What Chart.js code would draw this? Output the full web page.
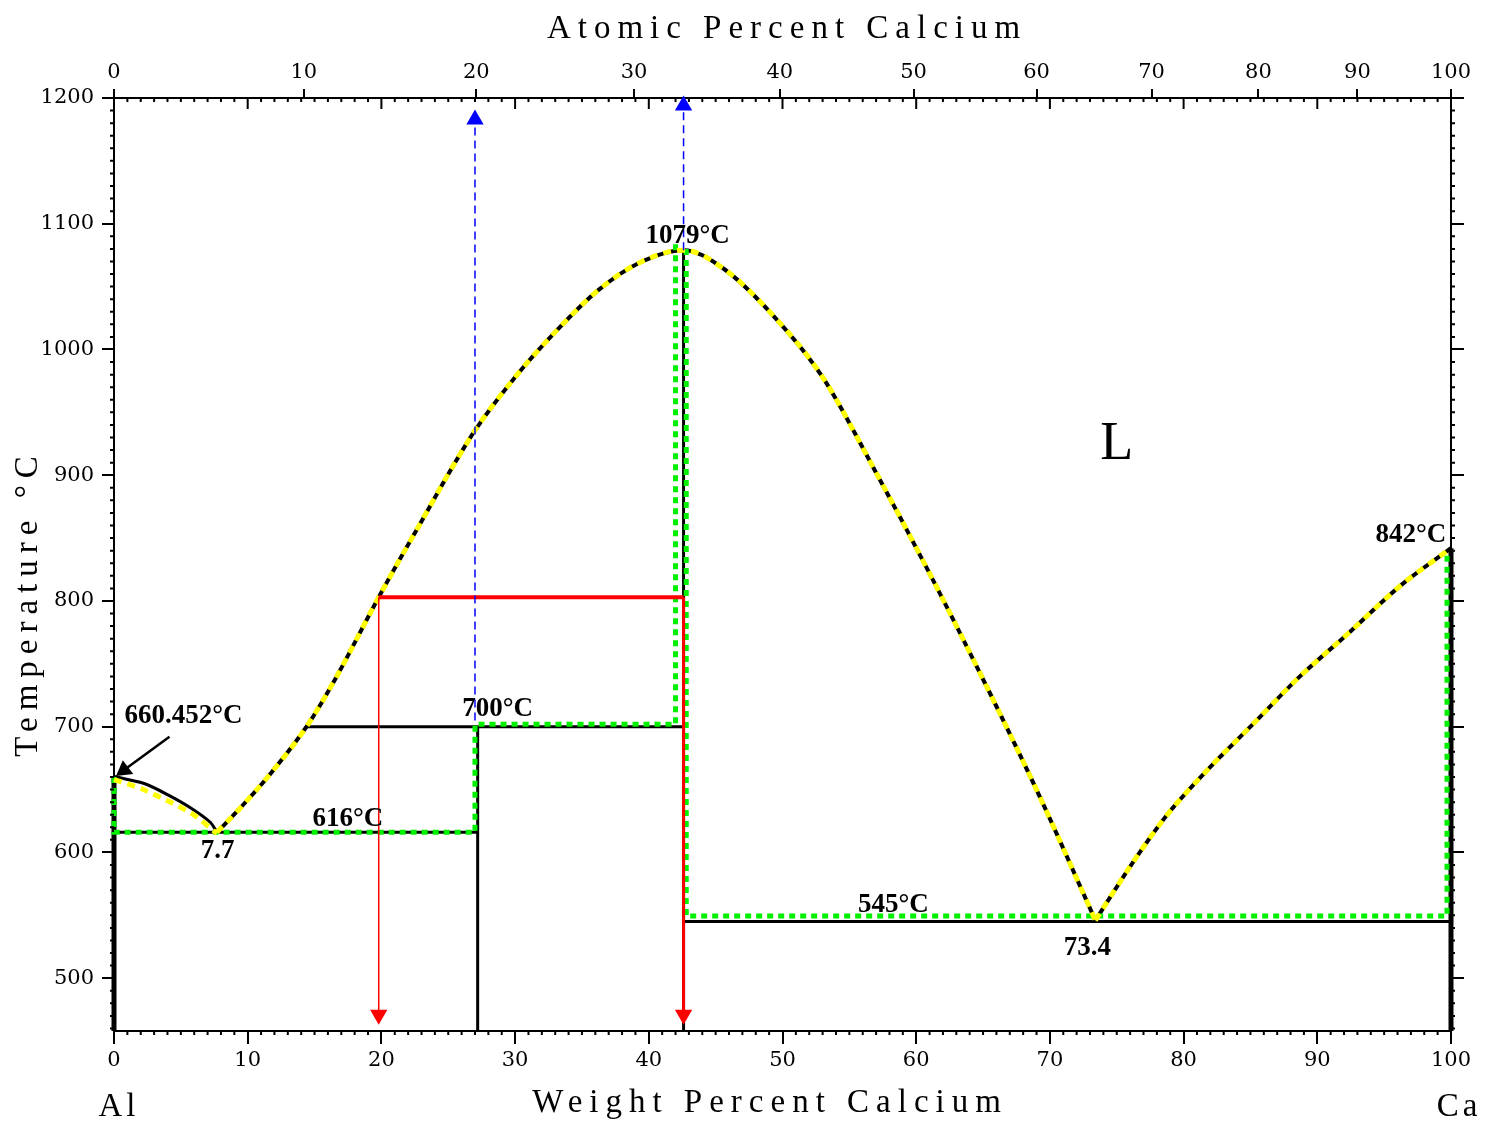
<!DOCTYPE html>
<html>
<head>
<title>Al-Ca Phase Diagram</title>
<script src="https://cdn.jsdelivr.net/npm/chart.js"></script>
<style>
  body { margin: 0; background: #ffffff; }
</style>
</head>
<body>
<canvas id="diagram" width="1492" height="1123"></canvas>
<script>
// x = weight percent calcium, y = temperature (deg C)
var weightTicks = [0, 10, 20, 30, 40, 50, 60, 70, 80, 90, 100];
var tempTicks = [500, 600, 700, 800, 900, 1000, 1100, 1200];
// top axis: atomic percent labels and where they sit in weight percent
var atomicTickLabels = [0, 10, 20, 30, 40, 50, 60, 70, 80, 90, 100];
var atomicTickWeight = [0, 14.2, 27.1, 38.9, 49.8, 59.8, 69.0, 77.6, 85.6, 93.0, 100];

// liquidus branches (black)
var liquidusAl = [
  {x: 0, y: 660.452}, {x: 2.2, y: 655}, {x: 4.0, y: 646}, {x: 5.8, y: 635},
  {x: 7.2, y: 624}, {x: 7.7, y: 616}
];
var liquidusMid = [
  {x: 7.7, y: 616}, {x: 9.5, y: 636}, {x: 11.5, y: 660}, {x: 14.4, y: 700},
  {x: 16.5, y: 737}, {x: 19.8, y: 803}, {x: 22.5, y: 854}, {x: 26.9, y: 934},
  {x: 30.0, y: 978}, {x: 33.1, y: 1015}, {x: 36.2, y: 1047}, {x: 39.3, y: 1069},
  {x: 42.6, y: 1079}, {x: 45.5, y: 1065}, {x: 49.3, y: 1027}, {x: 53.0, y: 978},
  {x: 56.8, y: 906}, {x: 61.0, y: 822}, {x: 65.5, y: 727}, {x: 69.3, y: 643},
  {x: 73.4, y: 546}
];
var liquidusCa = [
  {x: 73.4, y: 546}, {x: 76.2, y: 592}, {x: 78.7, y: 629}, {x: 82.0, y: 668},
  {x: 85.0, y: 700}, {x: 88.7, y: 740}, {x: 92.4, y: 775}, {x: 96.2, y: 812},
  {x: 100, y: 842}
];

// invariant lines and compounds (black)
var pureAl = [{x: 0, y: 458}, {x: 0, y: 660.452}];
var pureCa = [{x: 100, y: 458}, {x: 100, y: 842}];
var eutectic616 = [{x: 0, y: 616}, {x: 27.2, y: 616}];
var peritectic700 = [{x: 14.4, y: 700}, {x: 42.6, y: 700}];
var eutectic545 = [{x: 42.6, y: 545}, {x: 100, y: 545}];
var al4ca = [{x: 27.2, y: 458}, {x: 27.2, y: 700}];
var al2ca = [{x: 42.6, y: 458}, {x: 42.6, y: 1079}];

// highlighted overlays
var yellowAl = [{x: 0, y: 658}, {x: 2.2, y: 650}, {x: 5.8, y: 631}, {x: 7.7, y: 615}];
var greenLeft = [
  {x: 0, y: 660}, {x: 0, y: 616}, {x: 27.0, y: 616}, {x: 27.0, y: 702},
  {x: 42.0, y: 702}, {x: 42.0, y: 1084}
];
var greenRight = [
  {x: 42.8, y: 1080}, {x: 42.8, y: 549.5}, {x: 99.7, y: 549.5}, {x: 99.7, y: 839}
];
var redTieLine = [{x: 19.8, y: 803}, {x: 42.6, y: 803}];
var redDropLeft = [{x: 19.8, y: 803}, {x: 19.8, y: 471}];
var redDropRight = [{x: 42.6, y: 803}, {x: 42.6, y: 471}];
var blueRiseAl4Ca = [{x: 27.0, y: 705}, {x: 27.0, y: 1183}];
var blueRiseAl2Ca = [{x: 42.6, y: 1079}, {x: 42.6, y: 1194}];
var labelArrow = [{x: 4.15, y: 692}, {x: 0.75, y: 665.5}];

var notes = [
  {text: '660.452°C', x: 5.2, y: 708.8},
  {text: '7.7', x: 7.75, y: 601.4},
  {text: '616°C', x: 17.5, y: 626.8},
  {text: '700°C', x: 28.7, y: 714.4},
  {text: '1079°C', x: 42.9, y: 1090.4},
  {text: '545°C', x: 58.3, y: 558.4},
  {text: '73.4', x: 72.8, y: 524.1},
  {text: '842°C', x: 97.0, y: 852.1}
];

function line(data, color, width, order, extra) {
  return Object.assign({
    data: data,
    showLine: true,
    borderColor: color,
    backgroundColor: color,
    borderWidth: width,
    pointRadius: 0,
    fill: false,
    clip: 12,
    order: order
  }, extra || {});
}

function arrow(data, color, width, order, rotation, dash) {
  return line(data, color, width, order, {
    borderDash: dash || [],
    pointRadius: [0, 10],
    pointStyle: 'triangle',
    rotation: [0, rotation],
    pointBackgroundColor: color,
    pointBorderWidth: 0
  });
}

var GREEN = '#00f000', YELLOW = '#ffff00', RED = '#ff0000', BLUE = '#0000ff';

var datasets = [
  // black phase boundaries
  line(liquidusAl, '#000', 3, 9, {tension: 0.3}),
  line(liquidusMid, '#000', 4, 9, {cubicInterpolationMode: 'monotone'}),
  line(liquidusCa, '#000', 4, 9, {cubicInterpolationMode: 'monotone'}),
  line(pureAl, '#000', 5, 9),
  line(pureCa, '#000', 5, 9),
  line(eutectic616, '#000', 3, 9),
  line(peritectic700, '#000', 3, 9),
  line(eutectic545, '#000', 3, 9),
  line(al4ca, '#000', 3, 9),
  line(al2ca, '#000', 3, 9),
  // green dotted
  line(greenLeft, GREEN, 5, 6, {borderDash: [6, 5]}),
  line(greenRight, GREEN, 5, 6, {borderDash: [6, 5]}),
  // yellow dotted over the liquidus
  line(yellowAl, YELLOW, 5, 5, {borderDash: [8, 6], tension: 0.3}),
  line(liquidusMid, YELLOW, 5, 5, {borderDash: [8, 6], cubicInterpolationMode: 'monotone'}),
  line(liquidusCa, YELLOW, 5, 5, {borderDash: [8, 6], cubicInterpolationMode: 'monotone'}),
  // red tie line and drops
  line(redTieLine, RED, 4, 3),
  arrow(redDropLeft, RED, 1.5, 3, 180),
  arrow(redDropRight, RED, 3, 3, 180),
  // blue dashed risers
  arrow(blueRiseAl4Ca, BLUE, 1.5, 2, 0, [8, 5]),
  arrow(blueRiseAl2Ca, BLUE, 1.5, 2, 0, [8, 5]),
  // arrow to the Al melting point
  arrow(labelArrow, '#000', 2.5, 1, 233)
];

var tickFont = {family: 'DejaVu Serif', size: 21};

// minor ticks, plot labels and axis titles
var decorations = {
  id: 'decorations',
  afterDraw: function(chart) {
    var ctx = chart.ctx;
    var xs = chart.scales.x, ys = chart.scales.y;
    var area = chart.chartArea;
    ctx.save();
    ctx.strokeStyle = '#000';
    ctx.lineWidth = 2;
    ctx.beginPath();
    for (var w = 1; w < 100; w++) {
      var px = xs.getPixelForValue(w);
      if (w % 10 !== 0) {
        ctx.moveTo(px, area.bottom); ctx.lineTo(px, area.bottom + 4);
        ctx.moveTo(px, area.top); ctx.lineTo(px, area.top + 4);
      } else {
        ctx.moveTo(px, area.top); ctx.lineTo(px, area.top + 11);
      }
    }
    for (var t = 460; t < 1200; t += 10) {
      if (t % 100 === 0) continue;
      var py = ys.getPixelForValue(t);
      ctx.moveTo(area.left, py); ctx.lineTo(area.left - 4, py);
      ctx.moveTo(area.right, py); ctx.lineTo(area.right + 4, py);
    }
    ctx.stroke();

    ctx.fillStyle = '#000';
    ctx.textAlign = 'center';
    ctx.textBaseline = 'middle';
    ctx.font = 'bold 27px "Liberation Serif"';
    notes.forEach(function(n) {
      ctx.fillText(n.text, xs.getPixelForValue(n.x), ys.getPixelForValue(n.y));
    });
    ctx.font = '54px "Liberation Serif"';
    ctx.fillText('L', xs.getPixelForValue(75.0), ys.getPixelForValue(923.8));

    ctx.font = '33px "Liberation Serif"';
    ctx.letterSpacing = '7px';
    ctx.textBaseline = 'alphabetic';
    ctx.fillText('Atomic Percent Calcium', 787, 38);
    ctx.fillText('Weight Percent Calcium', 770, 1112);
    ctx.letterSpacing = '4px';
    ctx.fillText('Al', 119, 1116);
    ctx.fillText('Ca', 1459, 1116);
    ctx.letterSpacing = '7px';
    ctx.translate(37, 603);
    ctx.rotate(-Math.PI / 2);
    ctx.fillText('Temperature °C', 0, 0);
    ctx.restore();
  }
};

new Chart(document.getElementById('diagram').getContext('2d'), {
  type: 'scatter',
  data: {datasets: datasets},
  plugins: [decorations],
  options: {
    responsive: false,
    animation: false,
    devicePixelRatio: 1,
    layout: {padding: 0},
    plugins: {legend: {display: false}, tooltip: {enabled: false}},
    scales: {
      x: {
        type: 'linear', position: 'bottom', min: 0, max: 100,
        afterBuildTicks: function(s) { s.ticks = weightTicks.map(function(v) { return {value: v}; }); },
        afterFit: function(s) { s.height = 92; },
        ticks: {font: tickFont, color: '#000', padding: 4, maxRotation: 0, autoSkip: false,
                callback: function(v) { return String(v); }},
        grid: {drawOnChartArea: false, color: '#000', lineWidth: 2, tickLength: 13},
        border: {color: '#000', width: 2}
      },
      x2: {
        type: 'linear', position: 'top', min: 0, max: 100,
        afterBuildTicks: function(s) { s.ticks = atomicTickWeight.map(function(v) { return {value: v}; }); },
        afterFit: function(s) { s.height = 98; },
        ticks: {font: tickFont, color: '#000', padding: 4, maxRotation: 0, autoSkip: false,
                callback: function(v, i) { return String(atomicTickLabels[i]); }},
        grid: {drawOnChartArea: false, color: '#000', lineWidth: 2, tickLength: 9},
        border: {color: '#000', width: 2}
      },
      y: {
        type: 'linear', position: 'left', min: 458, max: 1200,
        afterBuildTicks: function(s) { s.ticks = tempTicks.map(function(v) { return {value: v}; }); },
        afterFit: function(s) { s.width = 114; },
        ticks: {font: tickFont, color: '#000', padding: 8,
                callback: function(v) { return String(v); }},
        grid: {drawOnChartArea: false, color: '#000', lineWidth: 2, tickLength: 12},
        border: {color: '#000', width: 2}
      },
      y2: {
        type: 'linear', position: 'right', min: 458, max: 1200,
        afterBuildTicks: function(s) { s.ticks = tempTicks.map(function(v) { return {value: v}; }); },
        afterFit: function(s) { s.width = 41; },
        ticks: {display: false},
        grid: {drawOnChartArea: false, color: '#000', lineWidth: 2, tickLength: 13},
        border: {color: '#000', width: 2}
      }
    }
  }
});
</script>
</body>
</html>
